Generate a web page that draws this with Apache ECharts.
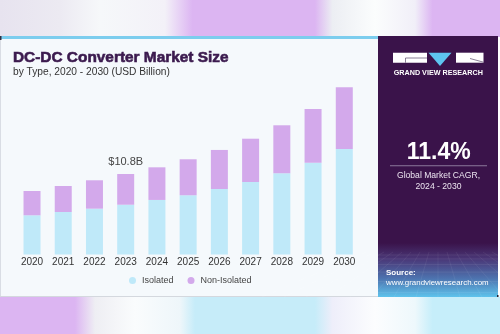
<!DOCTYPE html>
<html>
<head>
<meta charset="utf-8">
<style>
  html, body { margin: 0; padding: 0; background: #ffffff; }
  #chart { width: 500px; height: 334px; }
</style>
<script src="https://cdn.jsdelivr.net/npm/echarts@6/dist/echarts.min.js"></script>
</head>
<body>
<div id="chart"></div>
<script>
// DC-DC converter market size by type, USD billion
const years = ['2020', '2021', '2022', '2023', '2024', '2025', '2026', '2027', '2028', '2029', '2030'];
const isolated = [5.26, 5.70, 6.15, 6.68, 7.32, 7.95, 8.79, 9.73, 10.90, 12.32, 14.16];
const nonIsolated = [3.26, 3.49, 3.81, 4.12, 4.38, 4.83, 5.24, 5.81, 6.44, 7.21, 8.28];
const highlightIndex = 3;       // year whose total is called out
const cagrText = '11.4%';

const FONT = '"Liberation Sans", Arial, sans-serif';
const BLUE = '#bfe9f9';
const PURPLE = '#d3a9eb';
const DARK = '#3a134a';

const chart = echarts.init(document.getElementById('chart'), null, { renderer: 'canvas' });

function hGrad(stops) {
  return new echarts.graphic.LinearGradient(0, 0, 1, 0,
    stops.map(s => ({ offset: s[0], color: s[1] })));
}

const graphics = [
  // blurred backdrop bands above and below the card
  { type: 'rect', z: 0, shape: { x: 0, y: 0, width: 500, height: 37 },
    style: { fill: hGrad([[0, '#e7e3ef'], [0.12, '#eceaf2'], [0.2, '#f6f8fa'], [0.33, '#f3f1f8'],
      [0.385, '#dcb5f2'], [0.63, '#dcb5f2'], [0.665, '#eceef3'], [0.75, '#fbfdfd'], [0.83, '#f1eff8'], [0.865, '#dcb5f2'], [1, '#dcb5f2']]) } },
  { type: 'rect', z: 0, shape: { x: 0, y: 297, width: 500, height: 37 },
    style: { fill: hGrad([[0, '#dcb5f2'], [0.15, '#dcb5f2'], [0.19, '#eeeef3'], [0.27, '#fafcfd'], [0.36, '#eef6fa'],
      [0.39, '#c6ecf9'], [0.63, '#c6ecf9'], [0.665, '#eeeefa'], [0.75, '#fcfdfe'], [0.83, '#eef8fc'], [0.865, '#c6eefa'], [1, '#c6eefa']]) } },

  // card
  { type: 'rect', z: 0, shape: { x: 0, y: 36, width: 378, height: 261 }, style: { fill: '#f5f9fc' } },
  { type: 'rect', z: 0, shape: { x: 0, y: 36, width: 378, height: 3 }, style: { fill: '#7ccdee' } },
  { type: 'rect', z: 0, shape: { x: 0, y: 39, width: 1, height: 258 }, style: { fill: '#d9dde4' } },
  { type: 'rect', z: 0, shape: { x: 0, y: 296, width: 378, height: 1 }, style: { fill: '#d4d8de' } },
  { type: 'rect', z: 1, shape: { x: 0, y: 36, width: 1.5, height: 4 }, style: { fill: '#333344' } },

  // side panel
  { type: 'rect', z: 0, shape: { x: 378, y: 36, width: 120, height: 261 }, style: { fill: DARK } },
  { type: 'rect', z: 0, shape: { x: 378, y: 243, width: 120, height: 54 },
    style: { fill: new echarts.graphic.LinearGradient(0, 0, 0, 1, [
      { offset: 0, color: DARK }, { offset: 0.3, color: '#4a3878' },
      { offset: 0.65, color: '#4d72ae' }, { offset: 1, color: '#5ec3ec' }]) } },
  { type: 'rect', z: 1, shape: { x: 497, y: 295, width: 1.5, height: 2 }, style: { fill: '#222233' } },

  // logo
  { type: 'rect', z: 1, shape: { x: 393, y: 52.7, width: 34, height: 10 }, style: { fill: '#ffffff' } },
  { type: 'rect', z: 1, shape: { x: 456, y: 52.7, width: 27.5, height: 10 }, style: { fill: '#ffffff' } },
  { type: 'polygon', z: 1, shape: { points: [[428.5, 52.7], [451.5, 52.7], [440, 66]] }, style: { fill: '#5ec5f0' } },
  { type: 'polyline', z: 2, shape: { points: [[405.5, 62.7], [405.5, 58], [427, 58]] },
    style: { stroke: '#5a4a6a', lineWidth: 0.7, fill: null } },
  { type: 'polyline', z: 2, shape: { points: [[470, 58.5], [483.5, 62.2]] },
    style: { stroke: '#5a4a6a', lineWidth: 0.7, fill: null } },
  { type: 'text', z: 2, style: { x: 438.3, y: 73.5, text: 'GRAND VIEW RESEARCH', align: 'center', verticalAlign: 'middle',
    font: 'bold 7.2px ' + FONT, fill: '#ffffff' } },

  // CAGR callout
  { type: 'text', z: 2, style: { x: 438.7, y: 152.5, text: cagrText, align: 'center', verticalAlign: 'middle',
    font: 'bold 23px ' + FONT, fill: '#ffffff' } },
  { type: 'rect', z: 2, shape: { x: 390, y: 165.2, width: 97, height: 1 }, style: { fill: '#8c7a9c' } },
  { type: 'text', z: 2, style: { x: 438.5, y: 175.5, text: 'Global Market CAGR,', align: 'center', verticalAlign: 'middle',
    font: '8.6px ' + FONT, fill: '#ece4f0' } },
  { type: 'text', z: 2, style: { x: 438.5, y: 187, text: '2024 - 2030', align: 'center', verticalAlign: 'middle',
    font: '8.6px ' + FONT, fill: '#ece4f0' } },

  // source
  { type: 'text', z: 2, style: { x: 386, y: 273, text: 'Source:', align: 'left', verticalAlign: 'middle',
    font: 'bold 8px ' + FONT, fill: '#ffffff' } },
  { type: 'text', z: 2, style: { x: 386, y: 283, text: 'www.grandviewresearch.com', align: 'left', verticalAlign: 'middle',
    font: '7.9px ' + FONT, fill: '#ffffff' } },

  // headings (thin stroke gives the heavier title face)
  { type: 'text', z: 2, style: { x: 13, y: 57.5, text: 'DC-DC Converter Market Size', align: 'left', verticalAlign: 'middle',
    font: 'bold 15.4px ' + FONT, fill: '#3b1a4e', stroke: '#3b1a4e', lineWidth: 0.6 } },
  { type: 'text', z: 2, style: { x: 13, y: 72.5, text: 'by Type, 2020 - 2030 (USD Billion)', align: 'left', verticalAlign: 'middle',
    font: '10.2px ' + FONT, fill: '#333333' } }
];

// faint perspective grid at the bottom of the side panel
for (let i = 0; i < 7; i++) {
  const y = 255 + i * i * 0.9 + i * 3;
  if (y > 296) break;
  graphics.push({ type: 'line', z: 1, shape: { x1: 378, y1: y, x2: 498, y2: y },
    style: { stroke: 'rgba(255,255,255,0.12)', lineWidth: 0.6 } });
}
for (let i = -8; i <= 8; i++) {
  graphics.push({ type: 'line', z: 1, shape: { x1: 438 + i * 9, y1: 252, x2: 438 + i * 22, y2: 297 },
    style: { stroke: 'rgba(255,255,255,0.1)', lineWidth: 0.6 } });
}

const nonIsoData = nonIsolated.map((v, i) => i === highlightIndex ? {
  value: v,
  label: {
    show: true, position: 'top', distance: 7,
    formatter: () => '$' + (isolated[i] + nonIsolated[i]).toFixed(1) + 'B',
    fontFamily: FONT, fontSize: 11, color: '#444444'
  }
} : v);

chart.setOption({
  animation: false,
  backgroundColor: '#ffffff',
  graphic: graphics,
  grid: { left: 16.4, right: 140.1, top: 68.2, bottom: 79.5, containLabel: false },
  legend: {
    data: ['Isolated', 'Non-Isolated'],
    left: 129, top: 276, padding: 0,
    icon: 'circle', itemWidth: 7, itemHeight: 7, itemGap: 14,
    textStyle: { fontFamily: FONT, fontSize: 9, color: '#444444', padding: [0, 0, 0, 1] }
  },
  xAxis: {
    type: 'category', data: years,
    axisLine: { show: false }, axisTick: { show: false },
    axisLabel: { margin: 3, fontFamily: FONT, fontSize: 10, color: '#333333' }
  },
  yAxis: { type: 'value', min: 0, max: 25, show: false, splitLine: { show: false } },
  series: [
    { name: 'Isolated', type: 'bar', stack: 'total', data: isolated, barWidth: 17,
      itemStyle: { color: BLUE }, z: 3 },
    { name: 'Non-Isolated', type: 'bar', stack: 'total', data: nonIsoData, barWidth: 17,
      itemStyle: { color: PURPLE }, z: 3 }
  ]
});
</script>
</body>
</html>
